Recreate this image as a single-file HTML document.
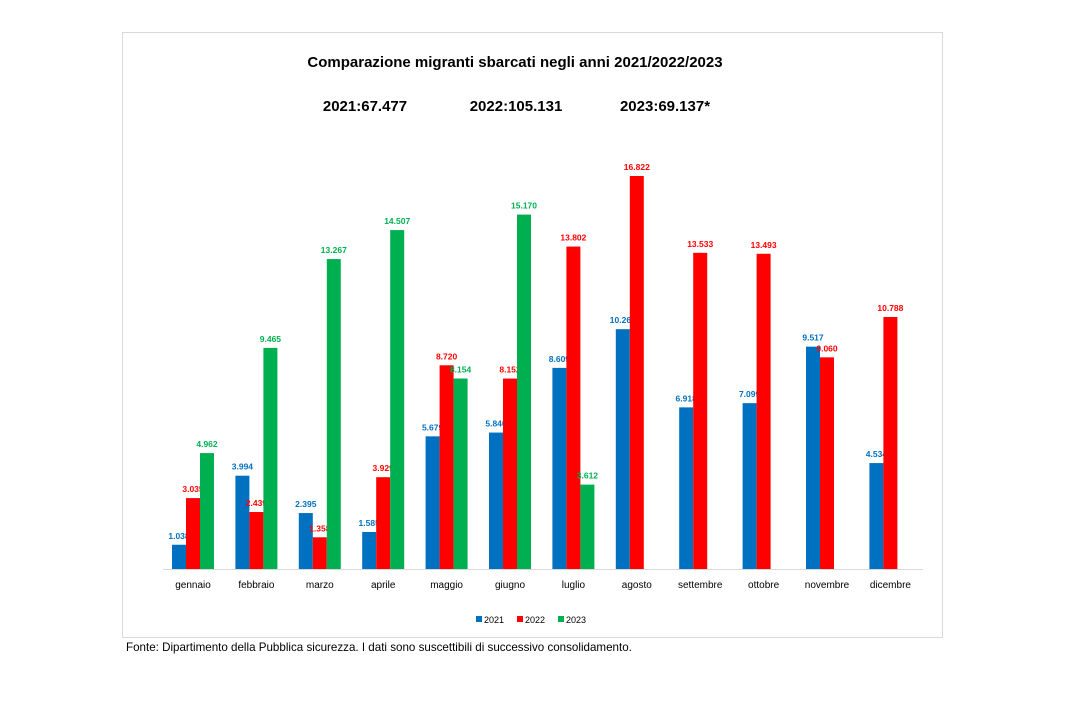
<!DOCTYPE html>
<html><head><meta charset="utf-8"><style>
body{margin:0;background:#fff;width:1080px;height:726px;overflow:hidden;font-family:"Liberation Sans",sans-serif}
</style></head><body>
<svg width="1080" height="726" id="svg" style="position:absolute;left:0;top:0">
<rect x="122.5" y="32.5" width="820" height="605" fill="#fff" stroke="#d9d9d9"/>
<text x="515" y="67" text-anchor="middle" font-size="15" font-weight="bold">Comparazione migranti sbarcati negli anni 2021/2022/2023</text>
<text x="365" y="111" text-anchor="middle" font-size="15" font-weight="bold">2021:67.477</text>
<text x="516" y="111" text-anchor="middle" font-size="15" font-weight="bold">2022:105.131</text>
<text x="665" y="111" text-anchor="middle" font-size="15" font-weight="bold">2023:69.137*</text>
<line x1="163" y1="569.5" x2="923" y2="569.5" stroke="#d9d9d9"/>
<g id="bars"></g>
<g>
<rect x="476" y="616" width="6" height="6" fill="#0070c0"/><text x="484" y="623" font-size="9">2021</text>
<rect x="517" y="616" width="6" height="6" fill="#ff0000"/><text x="525" y="623" font-size="9">2022</text>
<rect x="558" y="616" width="6" height="6" fill="#00b050"/><text x="566" y="623" font-size="9">2023</text>
</g>
<text x="126" y="651" font-size="11.6">Fonte: Dipartimento della Pubblica sicurezza. I dati sono suscettibili di successivo consolidamento.</text>
</svg>
<script>
const months=["gennaio","febbraio","marzo","aprile","maggio","giugno","luglio","agosto","settembre","ottobre","novembre","dicembre"];
const v2021=[1038,3994,2395,1585,5679,5840,8609,10266,6918,7099,9517,4534];
const v2022=[3035,2439,1358,3929,8720,8152,13802,16822,13533,13493,9060,10788];
const v2023=[4962,9465,13267,14507,8154,15170,3612,null,null,null,null,null];
const series=[[v2021,"#0070c0","2021"],[v2022,"#ff0000","2022"],[v2023,"#00b050","2023"]];
const base=569, k=393/16822, x0=193, step=63.4, bw=14;
const y=v=>base-v*k;
const fmt=v=>v>=1000?Math.floor(v/1000)+"."+String(v%1000).padStart(3,"0"):String(v);
const ns="http://www.w3.org/2000/svg", g=document.getElementById("bars");
months.forEach((m,i)=>{
  const cx=x0+i*step;
  const t=document.createElementNS(ns,"text");
  t.setAttribute("x",cx);t.setAttribute("y",588);t.setAttribute("text-anchor","middle");t.setAttribute("font-size","10");
  t.textContent=m;
  
  
  g.appendChild(t);
  series.forEach((s,j)=>{
    const v=s[0][i]; if(v==null) return;
    const bx=cx-21+j*bw;
    const r=document.createElementNS(ns,"rect");
    r.setAttribute("x",bx);r.setAttribute("y",y(v));r.setAttribute("width",bw);r.setAttribute("height",base-y(v));r.setAttribute("fill",s[1]);
    
    
    g.appendChild(r);
    const l=document.createElementNS(ns,"text");
    l.setAttribute("x",bx+bw/2);l.setAttribute("y",y(v)-6);l.setAttribute("text-anchor","middle");l.setAttribute("font-size","8.5");l.setAttribute("font-weight","bold");l.setAttribute("fill",s[1]);
    l.textContent=fmt(v);
    
    
    g.appendChild(l);
  });
});
</script>
</body></html>
